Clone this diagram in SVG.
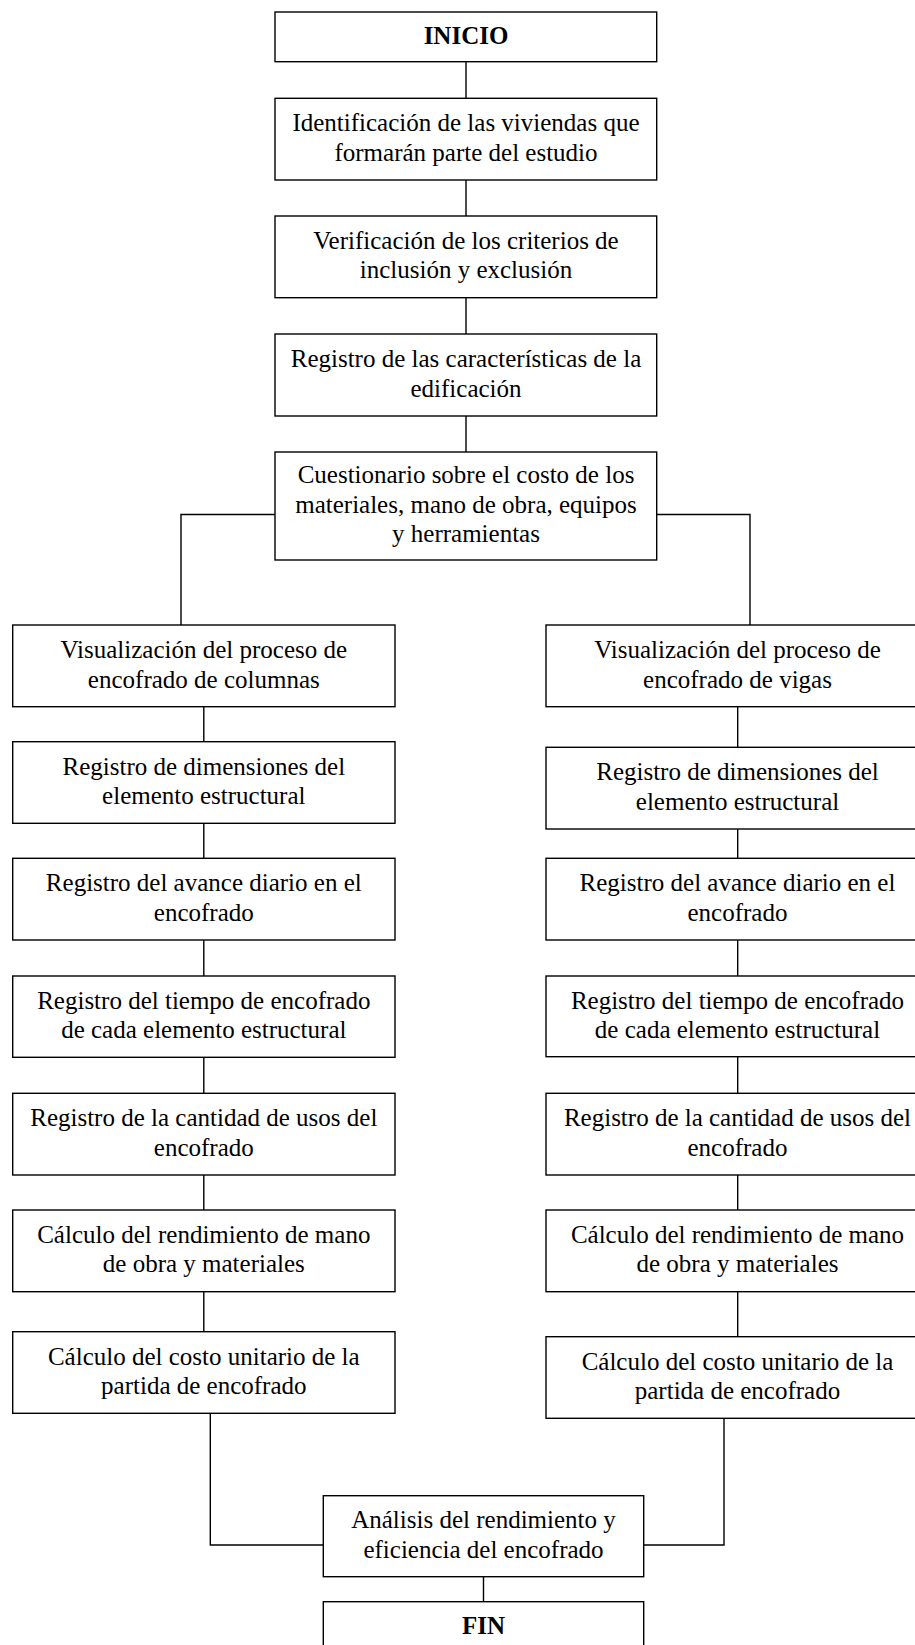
<svg xmlns="http://www.w3.org/2000/svg" width="915" height="1645" viewBox="0 0 915 1645">
<style>
.box{fill:#fff;stroke:#000;stroke-width:1.4}
.ln{fill:none;stroke:#000;stroke-width:1.4}
text{font-family:"Liberation Serif","Times New Roman",serif;font-size:25px;fill:#000;text-anchor:middle}
.b{font-weight:bold}
</style>
<rect width="915" height="1645" fill="#fff"/>
<g id="connectors">
<path class="ln" d="M466 61.7V98.3M466 180V216M466 297.7V334M466 416V452"/>
<path class="ln" d="M275 514.5H181V625M656.7 514.5H750V625"/>
<path class="ln" d="M203.8 706.7V741.7M203.8 823.3V858.3M203.8 940V976M203.8 1057.3V1093.3M203.8 1175V1210M203.8 1291.7V1331.7"/>
<path class="ln" d="M737.7 706.7V747.3M737.7 829V858.3M737.7 940V976M737.7 1056.7V1093.3M737.7 1175V1210M737.7 1291.7V1336.7"/>
<path class="ln" d="M210.3 1413.3V1545H323.3M724 1418.3V1545H643.7M483.5 1576.7V1601.7"/>
</g>
<g id="n-inicio"><rect class="box" x="275" y="12" width="381.7" height="49.7"/><text class="b" x="466" y="44.3">INICIO</text></g>
<g id="n-ident"><rect class="box" x="275" y="98.3" width="381.7" height="81.7"/><text x="466" y="131">Identificación de las viviendas que</text><text x="466" y="160.5">formarán parte del estudio</text></g>
<g id="n-verif"><rect class="box" x="275" y="216" width="381.7" height="81.7"/><text x="466" y="248.8">Verificación de los criterios de</text><text x="466" y="278.3">inclusión y exclusión</text></g>
<g id="n-regcar"><rect class="box" x="275" y="334" width="381.7" height="82"/><text x="466" y="367">Registro de las características de la</text><text x="466" y="396.5">edificación</text></g>
<g id="n-cuest"><rect class="box" x="275" y="452" width="381.7" height="108"/><text x="466" y="482.7">Cuestionario sobre el costo de los</text><text x="466" y="512.5">materiales, mano de obra, equipos</text><text x="466" y="542.3">y herramientas</text></g>

<g id="l-vis"><rect class="box" x="12.7" y="625" width="382.3" height="81.7"/><text x="203.8" y="658">Visualización del proceso de</text><text x="203.8" y="687.5">encofrado de columnas</text></g>
<g id="l-dim"><rect class="box" x="12.7" y="741.7" width="382.3" height="81.6"/><text x="203.8" y="774.5">Registro de dimensiones del</text><text x="203.8" y="804">elemento estructural</text></g>
<g id="l-ava"><rect class="box" x="12.7" y="858.3" width="382.3" height="81.7"/><text x="203.8" y="891">Registro del avance diario en el</text><text x="203.8" y="920.5">encofrado</text></g>
<g id="l-tie"><rect class="box" x="12.7" y="976" width="382.3" height="81.3"/><text x="203.8" y="1008.7">Registro del tiempo de encofrado</text><text x="203.8" y="1038.2">de cada elemento estructural</text></g>
<g id="l-uso"><rect class="box" x="12.7" y="1093.3" width="382.3" height="81.7"/><text x="203.8" y="1126">Registro de la cantidad de usos del</text><text x="203.8" y="1155.5">encofrado</text></g>
<g id="l-ren"><rect class="box" x="12.7" y="1210" width="382.3" height="81.7"/><text x="203.8" y="1242.8">Cálculo del rendimiento de mano</text><text x="203.8" y="1272.3">de obra y materiales</text></g>
<g id="l-cos"><rect class="box" x="12.7" y="1331.7" width="382.3" height="81.6"/><text x="203.8" y="1364.5">Cálculo del costo unitario de la</text><text x="203.8" y="1394">partida de encofrado</text></g>

<g id="r-vis"><rect class="box" x="546" y="625" width="383" height="81.7"/><text x="737.5" y="658">Visualización del proceso de</text><text x="737.5" y="687.5">encofrado de vigas</text></g>
<g id="r-dim"><rect class="box" x="546" y="747.3" width="383" height="81.7"/><text x="737.5" y="780.2">Registro de dimensiones del</text><text x="737.5" y="809.7">elemento estructural</text></g>
<g id="r-ava"><rect class="box" x="546" y="858.3" width="383" height="81.7"/><text x="737.5" y="891">Registro del avance diario en el</text><text x="737.5" y="920.5">encofrado</text></g>
<g id="r-tie"><rect class="box" x="546" y="976" width="383" height="80.7"/><text x="737.5" y="1008.5">Registro del tiempo de encofrado</text><text x="737.5" y="1038">de cada elemento estructural</text></g>
<g id="r-uso"><rect class="box" x="546" y="1093.3" width="383" height="81.7"/><text x="737.5" y="1126">Registro de la cantidad de usos del</text><text x="737.5" y="1155.5">encofrado</text></g>
<g id="r-ren"><rect class="box" x="546" y="1210" width="383" height="81.7"/><text x="737.5" y="1242.8">Cálculo del rendimiento de mano</text><text x="737.5" y="1272.3">de obra y materiales</text></g>
<g id="r-cos"><rect class="box" x="546" y="1336.7" width="383" height="81.6"/><text x="737.5" y="1369.5">Cálculo del costo unitario de la</text><text x="737.5" y="1399">partida de encofrado</text></g>

<g id="n-anal"><rect class="box" x="323.3" y="1495.7" width="320.4" height="81"/><text x="483.5" y="1528.2">Análisis del rendimiento y</text><text x="483.5" y="1557.7">eficiencia del encofrado</text></g>
<g id="n-fin"><rect class="box" x="323.3" y="1601.7" width="320.4" height="50"/><text class="b" x="483.5" y="1634.3">FIN</text></g>
</svg>
